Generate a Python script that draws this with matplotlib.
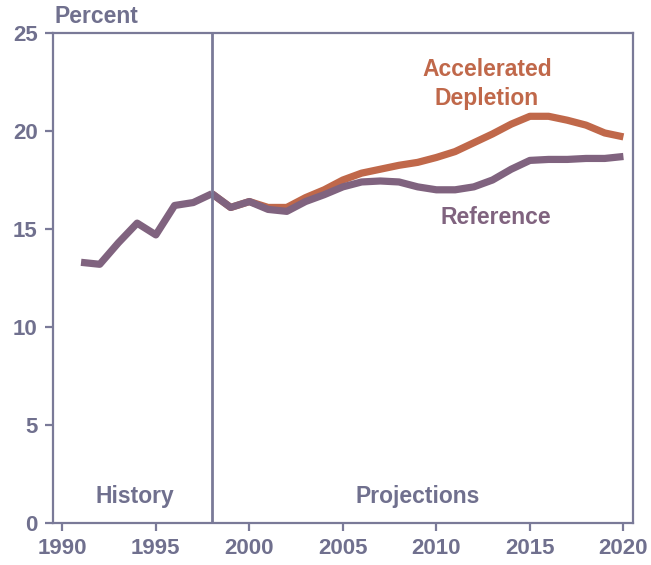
import matplotlib.pyplot as plt

years_hist = [1991, 1992, 1993, 1994, 1995, 1996, 1997, 1998]
ref_hist = [13.3, 13.2, 14.3, 15.3, 14.7, 16.2, 16.35, 16.8]

years_proj = list(range(1998, 2021))
reference = [16.8, 16.1, 16.4, 16.0, 15.9, 16.4, 16.75, 17.15, 17.4, 17.45, 17.4,
             17.15, 17.0, 17.0, 17.15, 17.5, 18.05, 18.5, 18.55, 18.55, 18.6, 18.6, 18.7]
accelerated = [16.8, 16.1, 16.4, 16.1, 16.1, 16.6, 17.0, 17.5, 17.85, 18.05, 18.25,
               18.4, 18.65, 18.95, 19.4, 19.85, 20.35, 20.75, 20.75, 20.55, 20.3, 19.9, 19.7]

x_ticks = [1990, 1995, 2000, 2005, 2010, 2015, 2020]
y_ticks = [0, 5, 10, 15, 20, 25]

axis_col = "#7a7a98"
text_col = "#70708e"
purple = "#80637f"
orange = "#c0684a"

plt.rcParams["font.family"] = ["Liberation Sans", "DejaVu Sans"]
plt.rcParams["font.weight"] = "bold"

fig = plt.figure(figsize=(6.51, 5.65), dpi=100)
ax = fig.add_axes([0.0814, 0.0743, 0.8906, 0.8673])

lw = 5.2
ax.plot(years_proj, accelerated, color=orange, lw=lw, solid_capstyle="butt", solid_joinstyle="round")
ax.plot(years_hist, ref_hist, color=purple, lw=lw, solid_capstyle="butt", solid_joinstyle="round")
ax.plot(years_proj, reference, color=purple, lw=lw, solid_capstyle="butt", solid_joinstyle="round")
ax.axvline(1998, color=axis_col, lw=2)

ax.set_xlim(1989.5, 2020.5)
ax.set_ylim(0, 25)
ax.set_xticks(x_ticks)
ax.set_yticks(y_ticks)
for s in ax.spines.values():
    s.set_color(axis_col)
    s.set_linewidth(1.6)
ax.tick_params(colors=axis_col, labelcolor=text_col, width=1.6, length=6, labelsize=16)
ax.tick_params(axis="x", pad=5)
ax.tick_params(axis="y", pad=5)

ax.text(0.003, 1.01, "Percent", transform=ax.transAxes, color=text_col, fontsize=16.5,
        fontweight="bold", ha="left", va="bottom")
ax.text(1993.9, 0.75, "History", color=text_col, fontsize=16.5, fontweight="bold", ha="center", va="bottom")
ax.text(2009.0, 0.75, "Projections", color=text_col, fontsize=16.5, fontweight="bold", ha="center", va="bottom")
ax.text(2012.7, 22.4, "Accelerated\nDepletion", color=orange, fontsize=16.5, fontweight="bold",
        ha="center", va="center", linespacing=1.35)
ax.text(2013.2, 15.6, "Reference", color=purple, fontsize=16.5, fontweight="bold", ha="center", va="center")

fig.savefig("out.png", dpi=100)
